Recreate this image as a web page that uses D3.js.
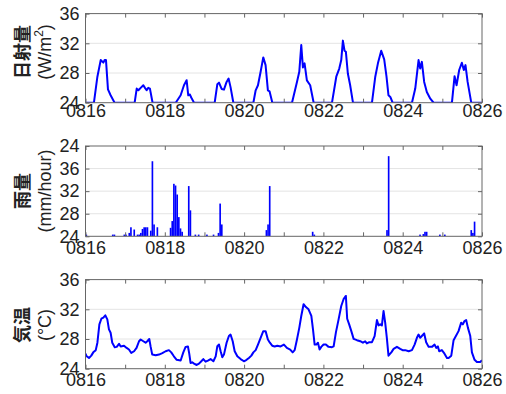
<!DOCTYPE html>
<html>
<head>
<meta charset="utf-8">
<script src="https://cdn.jsdelivr.net/npm/d3@7"></script>
<style>
  body { margin: 0; background: #fff; }
  svg { display: block; }
  .tick text { font-family: "Liberation Sans", Arial, sans-serif; font-size: 18px; fill: #222; }
  .ylab { font-family: "Noto Sans CJK JP", sans-serif; font-size: 18px; font-weight: bold; fill: #222; }
  .yunit { font-family: "Liberation Sans", Arial, sans-serif; font-size: 18px; fill: #222; }
</style>
</head>
<body>
<svg id="chart" width="506" height="394"></svg>
<script>
'use strict';

// hours since 08/16 00:00
const dayTicks = [0, 24, 48, 72, 96, 120, 144, 168, 192, 216, 240];
const dayLabels = ['0816', '', '0818', '', '0820', '', '0822', '', '0824', '', '0826'];
const yTicks = [24, 28, 32, 36];
const yTickLabels = ['24', '28', '32', '36'];
const rainTicks = [24, 28, 32, 36, 40];
const rainTickLabels = ['24', '28', '32', '36', '24'];

// 日射量 [hour, value]
const solar = [
  [0, 24], [5.1, 24], [7.2, 27.5], [9.2, 29.74], [10.8, 29.4], [11.6, 29.74], [12.4, 29.74], [13.6, 25.8], [15.2, 25.0], [17.6, 24],
  [29.75, 24], [31.0, 25.9], [32.0, 25.67], [33.4, 26.0], [35.0, 26.35], [36.0, 26.0], [37.0, 25.67], [38.0, 26.0], [39.0, 25.9], [40.6, 24],
  [54.6, 24], [57.6, 25.0], [59.6, 26.35], [61.2, 27.03], [62.2, 25.0], [63.2, 25.1], [64.0, 24.7], [65.7, 24],
  [78.2, 24], [79.8, 26.5], [80.8, 26.7], [82.4, 25.85], [83.8, 25.76], [85.4, 26.8], [86.6, 27.25], [87.8, 26.1], [89.5, 24],
  [101.6, 24], [103.0, 25.67], [104.4, 26.35], [106.0, 28.16], [107.6, 30.1], [109.0, 29.06], [110.4, 25.67], [111.4, 25.54], [113.1, 24],
  [125.0, 24], [128.0, 26.8], [129.4, 28.16], [130.6, 31.77], [131.6, 28.75], [132.6, 29.3], [134.0, 27.0], [136.0, 26.35], [138.1, 24],
  [149.2, 24], [151.8, 27.5], [153.6, 28.6], [154.8, 29.74], [155.8, 32.36], [156.8, 31.0], [157.6, 30.87], [158.8, 27.93], [160.2, 26.35], [161.9, 24],
  [173.4, 24], [175.4, 27.5], [177.0, 29.3], [179.0, 31.0], [180.8, 29.83], [182.2, 27.5], [183.4, 25.0], [184.5, 24.77], [185.9, 24],
  [197.6, 24], [199.6, 25.9], [201.6, 29.74], [202.6, 28.6], [203.6, 29.5], [205.0, 26.8], [206.6, 25.45], [208.7, 24.54], [210.7, 24],
  [221.8, 24], [223.4, 27.57], [224.6, 26.35], [226.2, 28.4], [227.8, 29.38], [229.0, 28.4], [230.0, 29.06], [231.3, 26.8], [233.5, 24], [240, 24]
];

// 雨量, hourly bars
const rainHours = [0, 16, 17, 23, 24, 26, 27, 29, 31, 32, 33, 34, 35, 36, 37, 39, 40, 41, 43,
  51, 52, 53, 54, 55, 56, 57, 58, 62, 63, 66, 68, 73, 77, 80, 81, 82,
  109, 110, 111, 137, 138, 182, 183, 202, 204, 205, 206, 214, 217, 233, 234, 235];
const rainValues = [24.3, 24.3, 24.3, 24.3, 24.3, 24.6, 25.6, 25.2, 24.3, 24.3, 24.6, 25.3, 25.6, 25.6, 25.6, 25.0, 37.3, 26.1, 25.6,
  25.5, 26.7, 33.3, 33.0, 31.4, 27.4, 25.4, 24.8, 32.9, 28.6, 24.3, 24.3, 24.3, 24.3, 24.6, 29.8, 26.1,
  25.1, 26.1, 32.9, 24.8, 24.3, 25.1, 38.2, 24.3, 24.4, 24.8, 24.8, 24.3, 24.3, 25.1, 24.6, 26.6];

// 気温 [hour, value]
const temp = [
  [0, 26.03], [0.7, 25.67], [2.1, 25.45], [3.5, 25.76], [4.7, 26.2], [6.2, 26.5], [7.2, 27.5], [8.4, 29.97], [9.6, 30.73], [10.8, 30.87],
  [12.0, 31.19], [13.2, 30.64], [14.2, 29.3], [15.2, 28.84], [16.2, 27.5], [17.7, 26.9], [18.9, 26.94], [20.3, 27.35], [21.3, 27.0], [23.3, 27.1],
  [24.9, 26.8], [26.3, 26.58], [27.7, 26.12], [29.4, 26.35], [30.9, 26.8], [32.4, 27.7], [33.4, 27.93], [35.0, 27.7], [36.4, 27.5], [37.4, 27.7],
  [38.6, 28.0], [39.4, 27.0], [40.4, 25.9], [42.5, 25.8], [44.5, 25.9], [46.5, 26.1], [48.5, 26.35], [50.5, 26.5], [51.9, 26.2], [53.5, 25.67],
  [55.2, 25.2], [57.6, 25.1], [59.2, 26.2], [60.6, 26.94], [62.0, 27.0], [62.8, 26.03], [63.6, 24.77], [64.6, 24.86], [65.7, 24.68], [67.3, 24.5],
  [68.7, 24.68], [70.1, 25.0], [71.3, 25.3], [72.7, 24.95], [74.1, 25.1], [75.7, 25.3], [77.4, 25.0], [78.8, 25.67], [79.8, 27.03], [80.8, 27.25],
  [81.8, 26.35], [82.8, 25.54], [83.8, 25.9], [85.4, 27.5], [86.8, 28.4], [87.8, 28.6], [89.1, 27.7], [90.3, 26.35], [91.9, 25.67], [93.9, 25.3],
  [95.9, 25.0], [97.5, 25.2], [98.9, 25.45], [100.4, 25.76], [101.6, 26.2], [103.0, 26.5], [104.4, 27.25], [106.0, 28.16], [107.6, 29.06], [109.0, 29.06],
  [110.4, 27.93], [111.6, 27.5], [113.0, 27.1], [114.5, 27.0], [116.1, 27.1], [118.1, 27.0], [120.1, 27.25], [121.9, 26.8], [123.9, 26.58], [125.4, 26.2],
  [126.6, 26.5], [128.0, 27.93], [129.4, 29.5], [130.6, 31.1], [132.0, 32.68], [133.4, 32.3], [135.0, 32.0], [136.7, 31.1], [137.7, 29.3], [138.7, 27.25],
  [139.7, 27.25], [140.7, 27.5], [141.7, 26.58], [142.7, 26.94], [144.1, 27.25], [145.5, 27.25], [147.1, 26.94], [149.2, 26.9], [150.2, 27.0], [151.6, 28.93],
  [153.2, 30.64], [154.8, 32.45], [156.2, 33.36], [157.6, 33.8], [158.4, 30.73], [159.6, 29.97], [160.9, 29.06], [162.3, 28.02], [164.3, 27.84], [166.3, 27.7],
  [167.9, 27.5], [169.3, 27.7], [170.3, 27.4], [171.8, 27.57], [173.4, 27.57], [175.0, 28.4], [176.4, 30.55], [177.4, 29.83], [178.4, 29.97], [179.4, 29.83],
  [180.4, 31.77], [181.4, 30.2], [182.4, 28.16], [183.4, 25.76], [185.1, 26.2], [186.5, 26.67], [188.5, 26.94], [190.5, 26.67], [191.9, 26.5], [193.5, 26.5],
  [195.6, 26.35], [197.6, 26.5], [199.2, 27.25], [200.6, 28.16], [201.6, 28.6], [202.6, 28.16], [203.6, 28.4], [205.0, 28.75], [206.2, 27.57], [207.7, 26.94],
  [209.7, 26.94], [211.3, 27.25], [212.3, 26.8], [213.3, 27.0], [214.1, 26.35], [215.7, 26.5], [217.3, 26.03], [218.8, 25.45], [219.8, 25.45], [221.4, 25.76],
  [222.8, 27.84], [224.2, 28.4], [225.8, 29.06], [227.4, 30.2], [228.4, 29.97], [229.4, 30.42], [230.4, 30.55], [231.5, 29.5], [232.9, 28.4], [233.9, 26.2],
  [235.5, 25.2], [236.9, 24.9], [238.9, 24.9], [240, 25.13]
];

const svg = d3.select('#chart');
const x = d3.scaleLinear().domain([0, 240]).range([85.5, 482]);

const frameColor = '#666';
const gridColor = '#e4e4e4';
const blue = '#0000ff';

function drawPanel(top, bottom, yDomain, yValues, yLabels, name, unit, labelY, xPad, id) {
  const y = d3.scaleLinear().domain(yDomain).range([bottom, top]);
  const g = svg.append('g');

  g.append('clipPath').attr('id', 'clip' + id)
    .append('rect').attr('x', x.range()[0]).attr('y', top)
    .attr('width', x.range()[1] - x.range()[0]).attr('height', bottom - top);

  // gridlines
  g.selectAll('.grid').data(yValues.slice(1, -1)).enter().append('line')
    .attr('x1', x.range()[0]).attr('x2', x.range()[1])
    .attr('y1', d => y(d)).attr('y2', d => y(d))
    .attr('stroke', gridColor).attr('stroke-width', 1);

  const plot = g.append('g').attr('clip-path', 'url(#clip' + id + ')');

  const axB = g.append('g').attr('transform', `translate(0,${bottom})`)
    .call(d3.axisBottom(x).tickValues(dayTicks).tickSize(-4).tickPadding(xPad)
      .tickFormat((d, i) => dayLabels[i]));
  const axT = g.append('g').attr('transform', `translate(0,${top})`)
    .call(d3.axisTop(x).tickValues(dayTicks).tickSize(-4).tickFormat(''));
  const axL = g.append('g').attr('transform', `translate(${x.range()[0]},0)`)
    .call(d3.axisLeft(y).tickValues(yValues).tickSize(-4).tickPadding(6)
      .tickFormat((d, i) => yLabels[i]));
  const axR = g.append('g').attr('transform', `translate(${x.range()[1]},0)`)
    .call(d3.axisRight(y).tickValues(yValues).tickSize(-4).tickFormat(''));
  [axB, axT, axL, axR].forEach(a => {
    a.select('.domain').remove();
    a.selectAll('.tick line').attr('stroke', frameColor);
  });

  g.append('rect')
    .attr('x', x.range()[0]).attr('y', top)
    .attr('width', x.range()[1] - x.range()[0]).attr('height', bottom - top)
    .attr('fill', 'none').attr('stroke', frameColor).attr('stroke-width', 1);

  const lab = g.append('g');
  lab.append('text').attr('class', 'ylab')
    .attr('transform', `translate(21,${labelY}) rotate(-90)`)
    .attr('text-anchor', 'middle').attr('dominant-baseline', 'central')
    .text(name);
  const u = lab.append('text').attr('class', 'yunit')
    .attr('transform', `translate(45,${labelY}) rotate(-90)`)
    .attr('text-anchor', 'middle').attr('dominant-baseline', 'central');
  unit.forEach(part => {
    const t = u.append('tspan').text(part.t);
    if (part.sup) t.attr('font-size', '12px').attr('dy', '-6');
    if (part.down) t.attr('dy', '6');
  });

  return { y, plot };
}

// panel 1
const p1 = drawPanel(13.6, 102.7, [24, 36], yTicks, yTickLabels, '日射量',
  [{ t: '(W/m' }, { t: '2', sup: true }, { t: ')', down: true }], 52, 2, 1);
p1.plot.append('path').datum(solar)
  .attr('fill', 'none').attr('stroke', blue).attr('stroke-width', 2)
  .attr('stroke-linejoin', 'round')
  .attr('d', d3.line().x(d => x(d[0])).y(d => p1.y(d[1])));

// panel 2
const p2 = drawPanel(146, 236.3, [24, 40], rainTicks, rainTickLabels, '雨量',
  [{ t: '(mm/hour)' }], 191, 5, 2);
p2.plot.selectAll('rect.bar').data(rainHours).enter().append('rect')
  .attr('x', d => x(d))
  .attr('width', d => x(d + 1) - x(d))
  .attr('y', (d, i) => p2.y(rainValues[i]))
  .attr('height', (d, i) => p2.y(24) - p2.y(rainValues[i]))
  .attr('fill', blue);

// panel 3
const p3 = drawPanel(279.6, 368.7, [24, 36], yTicks, yTickLabels, '気温',
  [{ t: '(°C)' }], 325, 5, 3);
p3.plot.append('path').datum(temp)
  .attr('fill', 'none').attr('stroke', blue).attr('stroke-width', 2)
  .attr('stroke-linejoin', 'round')
  .attr('d', d3.line().x(d => x(d[0])).y(d => p3.y(d[1])));
</script>
</body>
</html>
